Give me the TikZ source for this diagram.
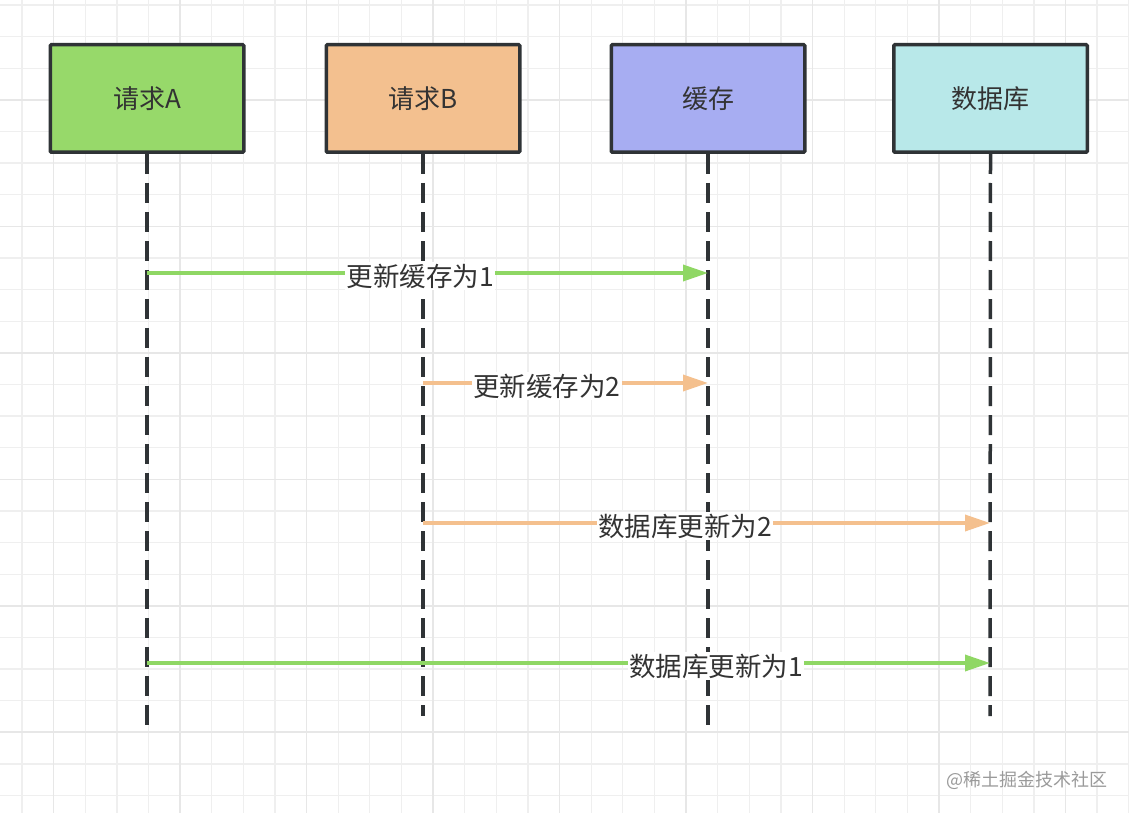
\documentclass[tikz,border=0pt]{standalone}
\usepackage{fontspec}
\setmainfont{Noto Sans CJK SC}
\usetikzlibrary{arrows.meta}
\definecolor{gridminor}{HTML}{EFEFEF}
\definecolor{gridmajor}{HTML}{E7E7E7}
\definecolor{boxline}{HTML}{2F3336}
\definecolor{fillA}{HTML}{97D96A}
\definecolor{fillB}{HTML}{F3C08F}
\definecolor{fillC}{HTML}{A7ADF2}
\definecolor{fillD}{HTML}{B8E8E9}
\definecolor{arrG}{HTML}{8FD764}
\definecolor{arrO}{HTML}{F4C08E}
\definecolor{txt}{HTML}{333333}
\definecolor{wmark}{HTML}{9A9A9A}
\begin{document}
\begin{tikzpicture}[x=1pt,y=-1pt,
  actor/.style={draw=boxline, line width=3.5pt, rounded corners=1pt, minimum width=193.5pt, minimum height=107.5pt, inner sep=0pt, font=\fontsize{26}{30}\selectfont, text=txt},
  life/.style={draw=boxline, line width=3.5pt, dash pattern=on 20pt off 9pt},
  msg/.style={line width=3.5pt, -{Triangle[length=25pt,width=16pt]}},
  lbl/.style={fill=white, inner sep=1.5pt, yshift=-3pt, font=\fontsize{26.5}{30}\selectfont, text=txt}]
\useasboundingbox (0,0) rectangle (1129,813);
\fill[white] (0,0) rectangle (1129,813);
% grid
\foreach \i in {1,...,36} \draw[gridminor, line width=1.3pt] ({-9.6+31.62*\i},0) -- ++(0,813);
\foreach \j in {0,...,25} \draw[gridminor, line width=1.3pt] (0,{5+31.62*\j}) -- ++(1129,0);
\foreach \i in {2,6,...,34} \draw[gridmajor, line width=1.6pt] ({-9.6+31.62*\i},0) -- ++(0,813);
\foreach \j in {3,7,...,23} \draw[gridmajor, line width=1.6pt] (0,{5+31.62*\j}) -- ++(1129,0);
% actors
\node[actor, fill=fillA] (A) at (147,98.5) {请求A};
\node[actor, fill=fillB] (B) at (423,98.5) {请求B};
\node[actor, fill=fillC] (C) at (708,98.5) {缓存};
\node[actor, fill=fillD] (D) at (990.5,98.5) {数据库};
% lifeline ends
\coordinate (Ae) at (147,725);
\coordinate (Be) at (423,716);
\coordinate (Ce) at (708,725);
\coordinate (De) at (990,716);
\draw[life] (A.south) -- (Ae);
\draw[life] (B.south) -- (Be);
\draw[life] (C.south) -- (Ce);
\draw[life] (D.south) -- (De);
% message points
\coordinate (a1) at (147,273);
\coordinate (c1) at (708,273);
\coordinate (b2) at (423,383);
\coordinate (c2) at (708,383);
\coordinate (b3) at (423,523);
\coordinate (d3) at (990,523);
\coordinate (a4) at (147,663);
\coordinate (d4) at (990,663);
\draw[msg, arrG] (a1) -- node[lbl, pos=0.487] (l1) {更新缓存为1} (c1);
\draw[msg, arrO] (b2) -- node[lbl, pos=0.435] (l2) {更新缓存为2} (c2);
\draw[msg, arrO] (b3) -- node[lbl, pos=0.462] (l3) {数据库更新为2} (d3);
\draw[msg, arrG] (a4) -- node[lbl, pos=0.675] (l4) {数据库更新为1} (d4);
% watermark
\node[font=\fontsize{18}{21}\selectfont, text=wmark] (wm) at (1027,780) {@稀土掘金技术社区};
\end{tikzpicture}
\end{document}
